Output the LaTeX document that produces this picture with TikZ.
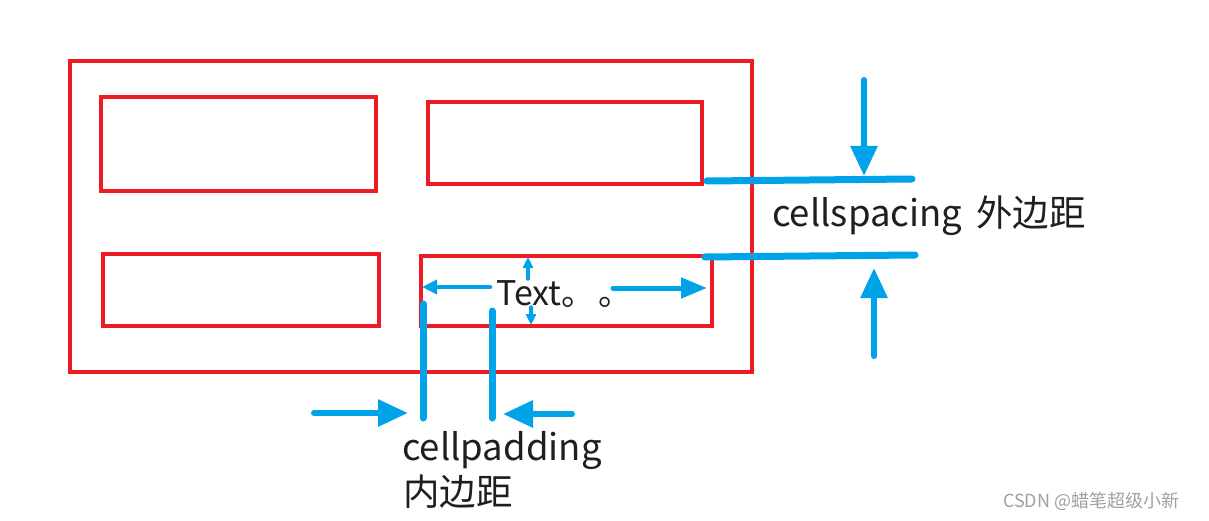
\documentclass[tikz,border=0pt]{standalone}
\usepackage{fontspec}
\setmainfont{Noto Sans CJK SC}
\usetikzlibrary{arrows.meta}
\definecolor{cred}{HTML}{ED1C24}
\definecolor{cblue}{HTML}{00A2E8}
\definecolor{cgray}{HTML}{A0A0A0}
\tikzset{
  redbox/.style={draw=cred, line width=4pt, inner sep=0pt, rectangle},
  bluebar/.style={draw=cblue, line width=7pt, line cap=round},
  bigarrow/.style={draw=cblue, line width=6pt, line cap=round, -{Triangle[width=26pt,length=30pt]}},
  midarrow/.style={draw=cblue, line width=5pt, line cap=round, -{Triangle[width=20pt,length=26pt]}},
  smallarrow/.style={draw=cblue, line width=4.5pt, line cap=round, -{Triangle[width=14pt,length=15pt]}},
  tinyarrow/.style={draw=cblue, line width=3.5pt, line cap=round, -{Triangle[width=10pt,length=11pt]}},
  label/.style={inner sep=0pt, anchor=base west, text=black!88, font=\fontsize{36.5pt}{40pt}\selectfont},
}
\begin{document}
\begin{tikzpicture}[x=1pt,y=-1pt]
\useasboundingbox (0,0) rectangle (1209,521);
% red boxes
\node[redbox, minimum width=682pt, minimum height=311pt] (outer) at (411,216.5) {};
\node[redbox, minimum width=275pt, minimum height=94pt] (b1) at (238.5,144) {};
\node[redbox, minimum width=274pt, minimum height=82pt] (b2) at (565,143) {};
\node[redbox, minimum width=276pt, minimum height=72pt] (b3) at (241,290) {};
\node[redbox, minimum width=291pt, minimum height=70pt] (b4) at (566.5,291) {};
% text in cell
\node[inner sep=0pt, anchor=base west, text=black!88, font=\fontsize{34pt}{36pt}\selectfont] (txt) at (496,305) {Text。\hspace{3pt}。};
% cellspacing bars
\coordinate (s1a) at (707,181);
\coordinate (s1b) at (912,179);
\coordinate (s2a) at (705,257);
\coordinate (s2b) at (915,255);
\draw[bluebar] (s1a) -- (s1b);
\draw[bluebar] (s2a) -- (s2b);
\coordinate (d1) at (864,80);
\coordinate (d1t) at (864,176);
\coordinate (u1) at (874,356);
\coordinate (u1t) at (874,268);
\draw[bigarrow] (d1) -- (d1t);
\draw[bigarrow] (u1) -- (u1t);
\node[label] (cs) at (772,227) {cellspacing\hspace{6pt} 外边距};
% cellpadding bars
\coordinate (p1a) at (423,304);
\coordinate (p1b) at (423,418);
\coordinate (p2a) at (492,311);
\coordinate (p2b) at (492,418);
\draw[bluebar] (p1a) -- (p1b);
\draw[bluebar] (p2a) -- (p2b);
\coordinate (r1) at (314,413);
\coordinate (r1t) at (408,413);
\coordinate (l1) at (572,414);
\coordinate (l1t) at (503,414);
\draw[bigarrow] (r1) -- (r1t);
\draw[bigarrow] (l1) -- (l1t);
\node[label] (cp) at (402,460) {cellpadding};
\node[label] (cpz) at (403,505) {内边距};
% arrows inside cell
\draw[smallarrow] (490,287) coordinate (ta) -- (422,287) coordinate (tat);
\draw[midarrow] (613,288) coordinate (tb) -- (707,288) coordinate (tbt);
\draw[tinyarrow] (528,279) coordinate (tc) -- (528,257) coordinate (tct);
\draw[tinyarrow] (531,307) coordinate (td) -- (531,325) coordinate (tdt);
% watermark
\node[inner sep=0pt, anchor=base west, text=cgray, font=\fontsize{18pt}{20pt}\selectfont] (wm) at (1003,507) {CSDN @蜡笔超级小新};
\end{tikzpicture}
\end{document}
